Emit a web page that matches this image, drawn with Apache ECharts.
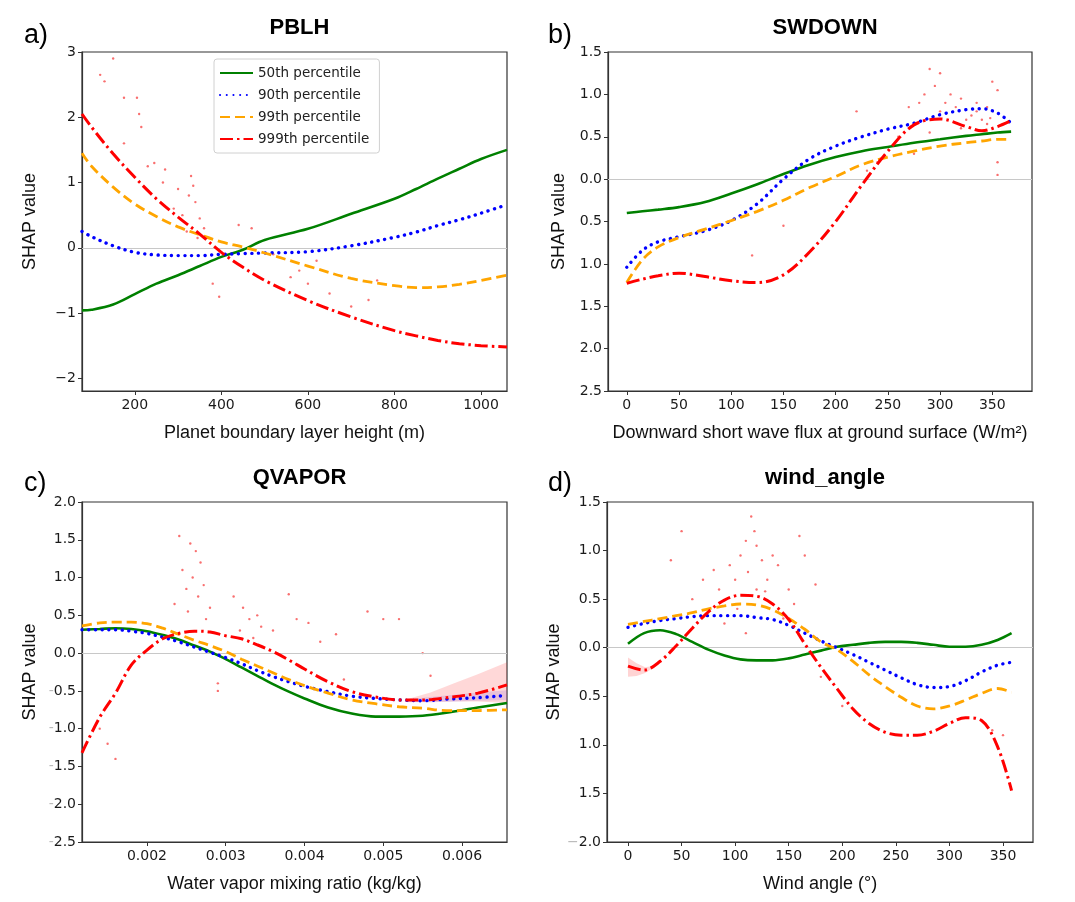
<!DOCTYPE html>
<html>
<head>
<meta charset="utf-8">
<script src="https://cdn.jsdelivr.net/npm/echarts@6/dist/echarts.min.js"></script>
<style>html,body{margin:0;padding:0;background:#fff}#c{width:1075px;height:902px}</style>
</head>
<body>
<div id="c"></div>
<script>
// ---------- Panel a) PBLH ----------
const A_x    = [78, 100, 150, 200, 250, 300, 350, 400, 450, 500, 600, 700, 800, 850, 900, 950, 1000, 1060];
const A_p50  = [-0.96, -0.95, -0.87, -0.71, -0.55, -0.42, -0.28, -0.14, -0.03, 0.12, 0.29, 0.52, 0.75, 0.90, 1.06, 1.21, 1.36, 1.50];
const A_p90  = [0.25, 0.17, 0.03, -0.07, -0.11, -0.12, -0.12, -0.10, -0.09, -0.08, -0.06, 0.03, 0.16, 0.24, 0.34, 0.43, 0.53, 0.66];
const A_p99  = [1.45, 1.25, 0.93, 0.67, 0.48, 0.32, 0.20, 0.09, 0.01, -0.08, -0.28, -0.47, -0.58, -0.61, -0.60, -0.56, -0.50, -0.42];
const A_p999 = [2.05, 1.85, 1.44, 1.08, 0.75, 0.47, 0.21, -0.07, -0.30, -0.50, -0.81, -1.06, -1.27, -1.35, -1.42, -1.47, -1.50, -1.52];
const A_dotX = [150, 120, 130, 175, 205, 210, 215, 175, 245, 270, 330, 335, 300, 340, 290, 350, 360, 440, 470, 520, 560, 600, 650, 700, 740, 760, 580, 620, 380, 395, 310, 320, 265, 230, 345, 325];
const A_dotY = [2.9, 2.65, 2.55, 2.3, 2.3, 2.05, 1.85, 1.6, 1.3, 1.2, 1.1, 0.95, 0.9, 0.7, 0.6, 0.45, 0.3, 0.35, 0.3, -0.1, -0.45, -0.55, -0.7, -0.9, -0.8, -0.5, -0.35, -0.2, -0.55, -0.75, 0.5, 0.25, 1.0, 1.25, 0.15, 0.8];
const A_xTicks = [200, 400, 600, 800, 1000];
const A_yTicks = [-2, -1, 0, 1, 2, 3];

// ---------- Panel b) SWDOWN ----------
const B_x    = [0, 15, 30, 50, 75, 100, 125, 150, 175, 200, 225, 250, 275, 300, 325, 340, 355, 368];
const B_p50  = [-0.40, -0.38, -0.36, -0.33, -0.27, -0.17, -0.06, 0.06, 0.17, 0.26, 0.33, 0.38, 0.43, 0.47, 0.51, 0.53, 0.55, 0.56];
const B_p90  = [-1.04, -0.84, -0.74, -0.68, -0.61, -0.49, -0.29, 0.00, 0.24, 0.39, 0.50, 0.59, 0.66, 0.76, 0.82, 0.83, 0.78, 0.66];
const B_p99  = [-1.22, -0.95, -0.80, -0.69, -0.59, -0.49, -0.38, -0.25, -0.10, 0.03, 0.17, 0.26, 0.33, 0.39, 0.43, 0.45, 0.47, 0.47];
const B_p999 = [-1.23, -1.18, -1.14, -1.11, -1.15, -1.20, -1.22, -1.13, -0.86, -0.50, -0.07, 0.33, 0.64, 0.71, 0.62, 0.57, 0.62, 0.69];
const B_dotX = [290, 300, 295, 310, 320, 335, 345, 350, 355, 280, 270, 300, 330, 340, 345, 320, 290, 355, 355, 240, 220, 260, 230, 150, 120, 315, 325, 285, 305, 335, 348, 275];
const B_dotY = [1.3, 1.25, 1.1, 1.0, 0.95, 0.9, 0.85, 1.15, 1.05, 0.9, 0.85, 0.8, 0.75, 0.7, 0.65, 0.6, 0.55, 0.2, 0.05, 0.2, 0.8, 0.5, 0.1, -0.55, -0.9, 0.85, 0.7, 1.0, 0.9, 0.8, 0.72, 0.3];
const B_xTicks = [0, 50, 100, 150, 200, 250, 300, 350];
const B_yTicks = [-2.5, -2.0, -1.5, -1.0, -0.5, 0.0, 0.5, 1.0, 1.5];

// ---------- Panel c) QVAPOR ----------
const C_x    = [0.001175, 0.0014, 0.0016, 0.0018, 0.002, 0.0022, 0.0024, 0.0026, 0.0028, 0.003, 0.0032, 0.0034, 0.0036, 0.0038, 0.004, 0.0043, 0.0046, 0.0049, 0.0052, 0.0055, 0.0058, 0.0062, 0.006571];
const C_p50  = [0.31, 0.32, 0.33, 0.32, 0.29, 0.24, 0.18, 0.10, 0.02, -0.08, -0.19, -0.30, -0.41, -0.51, -0.60, -0.72, -0.80, -0.84, -0.84, -0.83, -0.79, -0.72, -0.66];
const C_p90  = [0.31, 0.31, 0.31, 0.29, 0.26, 0.21, 0.15, 0.08, 0.01, -0.06, -0.14, -0.23, -0.31, -0.38, -0.44, -0.51, -0.57, -0.60, -0.62, -0.63, -0.61, -0.59, -0.56];
const C_p99  = [0.36, 0.40, 0.41, 0.41, 0.39, 0.33, 0.25, 0.17, 0.10, 0.02, -0.08, -0.17, -0.26, -0.35, -0.43, -0.53, -0.62, -0.67, -0.71, -0.73, -0.76, -0.76, -0.75];
const C_p999 = [-1.32, -0.85, -0.53, -0.16, 0.04, 0.19, 0.26, 0.29, 0.28, 0.23, 0.19, 0.11, 0.02, -0.09, -0.21, -0.38, -0.51, -0.58, -0.62, -0.62, -0.59, -0.53, -0.42];
const C_bandX    = [0.0053, 0.0056, 0.0059, 0.0062, 0.006571];
const C_redLow   = [-0.64, -0.65, -0.64, -0.64, -0.66];
const C_redHigh  = [-0.61, -0.52, -0.40, -0.28, -0.12];
const C_blueLow  = [-0.65, -0.65, -0.64, -0.63, -0.62];
const C_blueHigh = [-0.61, -0.58, -0.55, -0.52, -0.49];
const C_dotX = [0.00241, 0.00255, 0.00262, 0.00268, 0.00245, 0.00258, 0.00272, 0.0025, 0.00265, 0.00235, 0.0028, 0.0031, 0.00322, 0.0033, 0.0034, 0.00345, 0.0036, 0.0038, 0.0039, 0.00405, 0.0042, 0.0044, 0.0048, 0.0050, 0.0052, 0.0055, 0.0045, 0.0056, 0.0029, 0.0029, 0.0015, 0.0016, 0.0014, 0.00252, 0.00275, 0.00318, 0.00335];
const C_dotY = [1.55, 1.45, 1.35, 1.2, 1.1, 1.0, 0.9, 0.85, 0.75, 0.65, 0.6, 0.75, 0.6, 0.45, 0.5, 0.35, 0.3, 0.78, 0.45, 0.4, 0.15, 0.25, 0.55, 0.45, 0.45, 0.0, -0.35, -0.3, -0.4, -0.5, -1.2, -1.4, -1.0, 0.55, 0.45, 0.3, 0.2];
const C_xTicks = [0.002, 0.003, 0.004, 0.005, 0.006];
const C_yTicks = [-2.5, -2.0, -1.5, -1.0, -0.5, 0.0, 0.5, 1.0, 1.5, 2.0];

// ---------- Panel d) wind_angle ----------
const D_x    = [0, 15, 30, 45, 60, 75, 90, 105, 120, 135, 150, 165, 180, 195, 210, 225, 240, 255, 270, 285, 300, 315, 330, 345, 358];
const D_p50  = [0.04, 0.15, 0.18, 0.14, 0.06, -0.02, -0.08, -0.12, -0.13, -0.13, -0.11, -0.07, -0.03, 0.01, 0.03, 0.05, 0.06, 0.06, 0.05, 0.03, 0.01, 0.01, 0.03, 0.08, 0.15];
const D_p90  = [0.21, 0.25, 0.28, 0.30, 0.32, 0.33, 0.33, 0.33, 0.31, 0.29, 0.23, 0.15, 0.07, 0.00, -0.07, -0.15, -0.23, -0.31, -0.38, -0.41, -0.40, -0.34, -0.25, -0.18, -0.15];
const D_p99  = [0.24, 0.27, 0.30, 0.33, 0.36, 0.40, 0.43, 0.45, 0.44, 0.39, 0.30, 0.19, 0.06, -0.02, -0.14, -0.28, -0.40, -0.51, -0.60, -0.63, -0.60, -0.54, -0.47, -0.42, -0.46];
const D_p999 = [-0.19, -0.23, -0.14, 0.02, 0.20, 0.37, 0.49, 0.54, 0.53, 0.45, 0.29, 0.04, -0.20, -0.42, -0.63, -0.78, -0.87, -0.90, -0.90, -0.86, -0.78, -0.72, -0.75, -1.02, -1.47];
const D_bandX    = [0, 8, 16, 22];
const D_redLow   = [-0.30, -0.29, -0.26, -0.22];
const D_redHigh  = [-0.10, -0.16, -0.20, -0.19];
const D_dotX = [50, 115, 118, 120, 110, 105, 125, 95, 135, 140, 160, 165, 80, 70, 40, 100, 130, 150, 155, 85, 175, 60, 120, 145, 180, 200, 340, 350, 90, 110, 112, 128, 102];
const D_dotY = [1.2, 1.35, 1.2, 1.05, 1.1, 0.95, 0.9, 0.85, 0.95, 0.85, 1.15, 0.95, 0.8, 0.7, 0.9, 0.7, 0.7, 0.6, 0.45, 0.6, 0.65, 0.5, 0.6, 0.3, -0.3, -0.6, -0.85, -0.9, 0.25, 0.15, 0.78, 0.58, 0.4];
const D_xTicks = [0, 50, 100, 150, 200, 250, 300, 350];
const D_yTicks = [-2.0, -1.5, -1.0, -0.5, 0.0, 0.5, 1.0, 1.5];

const seriesNames = ['50th percentile', '90th percentile', '99th percentile', '999th percentile'];
const titles = ['PBLH', 'SWDOWN', 'QVAPOR', 'wind_angle'];
const letters = ['a)', 'b)', 'c)', 'd)'];
const xNames = ['Planet boundary layer height (m)', 'Downward short wave flux at ground surface (W/m²)', 'Water vapor mixing ratio (kg/kg)', 'Wind angle (°)'];

// ---------- layout / style ----------
const grids = [
  {left: 82, top: 52, width: 425, height: 339},
  {left: 608, top: 52, width: 424, height: 339},
  {left: 82, top: 502, width: 425, height: 340},
  {left: 607, top: 502, width: 426, height: 340}
];
const xRanges = [[78, 1060], [-18, 388], [0.001175, 0.006571], [-19.6, 378]];
const yRanges = [[-2.195, 3], [-2.5, 1.5], [-2.5, 2.0], [-2.0, 1.5]];
const xTicks = [A_xTicks, B_xTicks, C_xTicks, D_xTicks];
const yTicks = [A_yTicks, B_yTicks, C_yTicks, D_yTicks];

const COL = ['#008000', '#0000ff', '#ffa500', '#ff0000'];
const LS = [
  {color: COL[0], width: 2.6, type: 'solid'},
  {color: COL[1], width: 3.4, type: [0.1, 6.6], cap: 'round'},
  {color: COL[2], width: 2.8, type: [10, 5]},
  {color: COL[3], width: 3, type: [13, 4, 2.5, 4]}
];

const pairs = (xs, ys) => xs.map((x, i) => [x, ys[i]]);
const tickFont = {fontFamily: 'DejaVu Sans', fontSize: 14, color: '#1a1a1a'};
const nameFont = {fontFamily: 'Liberation Sans', fontSize: 18, color: '#111'};

const yFormatters = [
  v => (v < 0 ? '\u2212' + Math.abs(v) : String(v)),
  v => Math.abs(v).toFixed(1),
  v => (v < 0 ? '{m|-}' + Math.abs(v).toFixed(1) : v.toFixed(1)),
  v => (v <= -2 ? '{m|\u2212}' + Math.abs(v).toFixed(1) : Math.abs(v).toFixed(1))
];
const xFormatters = [
  v => String(v), v => String(v), v => v.toFixed(3), v => String(v)
];
const yNameGap = [43, 40, 43, 41];

const xAxes = grids.map((g, i) => ({
  type: 'value', gridIndex: i, min: xRanges[i][0], max: xRanges[i][1],
  name: xNames[i], nameLocation: 'middle', nameGap: 33, nameTextStyle: nameFont,
  axisLine: {show: true, onZero: false, lineStyle: {color: '#333', width: 1.2}},
  axisTick: {show: true, length: 4, customValues: xTicks[i], lineStyle: {color: '#333'}},
  axisLabel: Object.assign({customValues: xTicks[i], margin: 7, formatter: xFormatters[i]}, tickFont),
  splitLine: {show: false}
}));
const yAxes = grids.map((g, i) => ({
  type: 'value', gridIndex: i, min: yRanges[i][0], max: yRanges[i][1],
  name: 'SHAP value', nameLocation: 'middle', nameGap: yNameGap[i], nameTextStyle: nameFont,
  axisLine: {show: true, onZero: false, lineStyle: {color: '#333', width: 1.2}},
  axisTick: {show: true, length: 4, customValues: yTicks[i], lineStyle: {color: '#333'}},
  axisLabel: Object.assign({customValues: yTicks[i], margin: 6, formatter: yFormatters[i],
    rich: {m: {color: '#bbb', fontFamily: 'DejaVu Sans', fontSize: 14}}}, tickFont),
  splitLine: {show: false}
}));

const series = [];
// zero reference lines
for (let i = 0; i < 4; i++) {
  series.push({
    type: 'line', xAxisIndex: i, yAxisIndex: i, data: [], silent: true, z: 1,
    markLine: {silent: true, symbol: 'none', label: {show: false},
      lineStyle: {color: '#c8c8c8', width: 1.2, type: 'solid'}, data: [{yAxis: 0}], animation: false}
  });
}
// red outlier dots
const dotsX = [A_dotX, B_dotX, C_dotX, D_dotX];
const dotsY = [A_dotY, B_dotY, C_dotY, D_dotY];
for (let i = 0; i < 4; i++) {
  series.push({type: 'scatter', xAxisIndex: i, yAxisIndex: i, data: pairs(dotsX[i], dotsY[i]),
    symbolSize: 2.4, itemStyle: {color: 'rgba(245,30,30,0.8)'}, silent: true, z: 2});
}
// confidence bands (polygon through the library's coordinate mapping)
function band(i, xs, lo, hi, color) {
  series.push({
    type: 'custom', xAxisIndex: i, yAxisIndex: i, silent: true, z: 2, clip: true,
    data: [[xs[0], lo[0]]],
    renderItem: (params, api) => {
      const pts = [];
      for (let k = 0; k < xs.length; k++) pts.push(api.coord([xs[k], hi[k]]));
      for (let k = xs.length - 1; k >= 0; k--) pts.push(api.coord([xs[k], lo[k]]));
      return {type: 'polygon', shape: {points: pts}, style: {fill: color, stroke: null}};
    }
  });
}
band(2, C_bandX, C_blueLow, C_blueHigh, 'rgba(90,90,255,0.18)');
band(2, C_bandX, C_redLow, C_redHigh, 'rgba(255,60,60,0.2)');
band(3, D_bandX, D_redLow, D_redHigh, 'rgba(255,60,60,0.22)');

const allX = [A_x, B_x, C_x, D_x];
const allY = [
  [A_p50, A_p90, A_p99, A_p999],
  [B_p50, B_p90, B_p99, B_p999],
  [C_p50, C_p90, C_p99, C_p999],
  [D_p50, D_p90, D_p99, D_p999]
];
for (let i = 0; i < 4; i++) {
  for (let s = 0; s < 4; s++) {
    series.push({
      type: 'line', name: seriesNames[s], xAxisIndex: i, yAxisIndex: i,
      data: pairs(allX[i], allY[i][s]), symbol: 'none', showSymbol: false,
      smooth: 0.35, lineStyle: LS[s], itemStyle: {color: COL[s]}, z: 5 + s
    });
  }
}

const titleOpts = grids.map((g, i) => ({
  text: titles[i], left: g.left + g.width / 2, textAlign: 'center', top: g.top - 40,
  textStyle: {fontFamily: 'Liberation Sans', fontSize: 22, fontWeight: 'bold', color: '#000'}
}));
const letterPos = [[24, 22], [548, 22], [24, 470], [548, 470]];
const graphics = letters.map((t, i) => ({
  type: 'text', left: letterPos[i][0], top: letterPos[i][1],
  style: {text: t, font: '27px "Liberation Sans"', fill: '#000'}
}));

const chart = echarts.init(document.getElementById('c'), null, {renderer: 'canvas'});
chart.setOption({
  animation: false,
  backgroundColor: '#fff',
  title: titleOpts,
  graphic: graphics,
  grid: grids.map(g => Object.assign({show: true, borderColor: '#333', borderWidth: 1.2, backgroundColor: 'transparent'}, g)),
  xAxis: xAxes,
  yAxis: yAxes,
  legend: {
    data: seriesNames, orient: 'vertical', left: 214, top: 59,
    itemWidth: 33, itemHeight: 12, itemGap: 8,
    padding: [7, 10, 7, 5],
    itemStyle: {opacity: 0, color: 'transparent', borderColor: 'transparent'},
    backgroundColor: 'rgba(255,255,255,0.85)', borderColor: '#d0d0d0', borderWidth: 1, borderRadius: 3,
    textStyle: {fontFamily: 'DejaVu Sans', fontSize: 13.5, color: '#222'}
  },
  series: series
});
</script>
</body>
</html>
